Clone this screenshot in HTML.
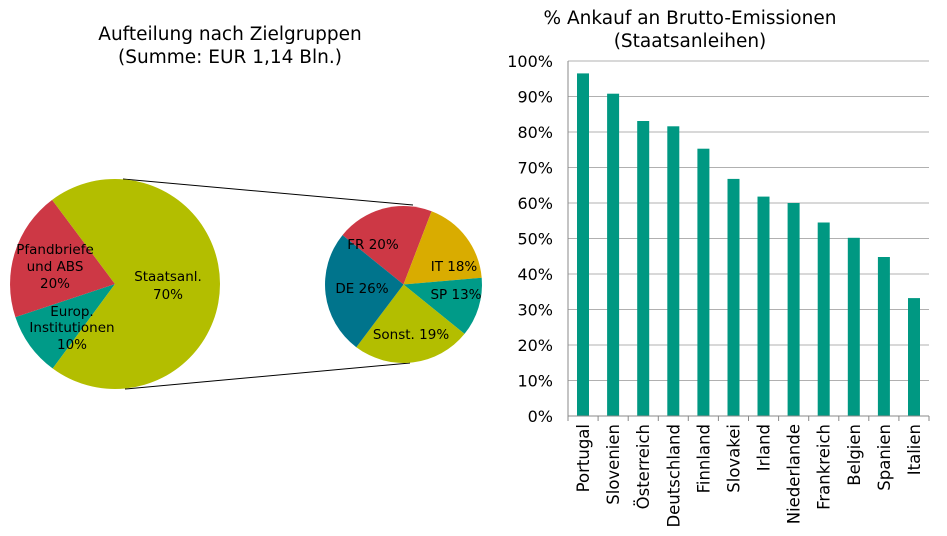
<!DOCTYPE html>
<html><head><meta charset="utf-8"><style>body{margin:0;background:#fff}svg{display:block}text{font-family:"DejaVu Sans","Liberation Sans",sans-serif;fill:#000}</style></head><body>
<svg width="947" height="536" viewBox="0 0 947 536">
<text x="230" y="40" font-size="18.5" text-anchor="middle">Aufteilung nach Zielgruppen</text>
<text x="230" y="63" font-size="18.5" text-anchor="middle">(Summe: EUR 1,14 Bln.)</text>
<text x="690" y="24" font-size="18.5" text-anchor="middle">% Ankauf an Brutto-Emissionen</text>
<text x="690" y="47" font-size="18.5" text-anchor="middle">(Staatsanleihen)</text>
<line x1="123" y1="179" x2="413" y2="205" stroke="#000" stroke-width="1"/>
<line x1="125" y1="389" x2="410" y2="363" stroke="#000" stroke-width="1"/>
<path d="M115,284 L52.7,368.5 A105,105 0 0 1 15.4,317.1 Z" fill="#009b88"/>
<path d="M115,284 L15.4,317.1 A105,105 0 0 1 52.1,199.9 Z" fill="#cd3845"/>
<path d="M115,284 L52.1,199.9 A105,105 0 1 1 52.7,368.5 Z" fill="#b3be00"/>
<path d="M403.5,284.5 L342.5,235.1 A78.5,78.5 0 0 1 431.6,211.2 Z" fill="#cd3845"/>
<path d="M403.5,284.5 L431.6,211.2 A78.5,78.5 0 0 1 481.7,277.7 Z" fill="#d9ac00"/>
<path d="M403.5,284.5 L481.7,277.7 A78.5,78.5 0 0 1 464.5,333.9 Z" fill="#009b88"/>
<path d="M403.5,284.5 L464.5,333.9 A78.5,78.5 0 0 1 356.3,347.2 Z" fill="#b3be00"/>
<path d="M403.5,284.5 L356.3,347.2 A78.5,78.5 0 0 1 342.5,235.1 Z" fill="#00748c"/>
<g font-size="13.5" text-anchor="middle">
<text x="55" y="254">Pfandbriefe</text><text x="55" y="271">und ABS</text><text x="55" y="288">20%</text>
<text x="168" y="281">Staatsanl.</text><text x="168" y="299">70%</text>
<text x="72" y="316">Europ.</text><text x="72" y="332">Institutionen</text><text x="72" y="349">10%</text>
<text x="373" y="249">FR 20%</text><text x="454" y="271">IT 18%</text><text x="362" y="293">DE 26%</text><text x="456" y="299">SP 13%</text><text x="411" y="339">Sonst. 19%</text>
</g>
<g stroke="#b0b0b0">
<line x1="568" y1="380.5" x2="929" y2="380.5"/><line x1="568" y1="345" x2="929" y2="345"/><line x1="568" y1="309.5" x2="929" y2="309.5"/><line x1="568" y1="274" x2="929" y2="274"/><line x1="568" y1="238.5" x2="929" y2="238.5"/><line x1="568" y1="203" x2="929" y2="203"/><line x1="568" y1="167.5" x2="929" y2="167.5"/><line x1="568" y1="132" x2="929" y2="132"/><line x1="568" y1="96.5" x2="929" y2="96.5"/><line x1="568" y1="61" x2="929" y2="61"/>
</g>
<g font-size="16" text-anchor="end">
<text x="553" y="422">0%</text><text x="553" y="386.5">10%</text><text x="553" y="351">20%</text><text x="553" y="315.5">30%</text><text x="553" y="280">40%</text><text x="553" y="244.5">50%</text><text x="553" y="209">60%</text><text x="553" y="173.5">70%</text><text x="553" y="138">80%</text><text x="553" y="102.5">90%</text><text x="553" y="67">100%</text>
</g>
<g fill="#009882">
<rect x="577" y="73.4" width="12" height="342.6"/>
<rect x="607.1" y="93.7" width="12" height="322.3"/>
<rect x="637.2" y="121" width="12" height="295"/>
<rect x="667.3" y="126.3" width="12" height="289.7"/>
<rect x="697.4" y="148.7" width="12" height="267.3"/>
<rect x="727.5" y="178.9" width="12" height="237.1"/>
<rect x="757.5" y="196.6" width="12" height="219.4"/>
<rect x="787.6" y="203" width="12" height="213"/>
<rect x="817.7" y="222.5" width="12" height="193.5"/>
<rect x="847.8" y="237.8" width="12" height="178.2"/>
<rect x="877.9" y="257" width="12" height="159"/>
<rect x="908" y="298.1" width="12" height="117.9"/>
</g>
<g stroke="#888">
<line x1="568" y1="61" x2="568" y2="416"/><line x1="568" y1="416" x2="929" y2="416"/>
<line x1="568" y1="416" x2="568" y2="421"/><line x1="598.1" y1="416" x2="598.1" y2="421"/><line x1="628.2" y1="416" x2="628.2" y2="421"/><line x1="658.3" y1="416" x2="658.3" y2="421"/><line x1="688.3" y1="416" x2="688.3" y2="421"/><line x1="718.4" y1="416" x2="718.4" y2="421"/><line x1="748.5" y1="416" x2="748.5" y2="421"/><line x1="778.6" y1="416" x2="778.6" y2="421"/><line x1="808.7" y1="416" x2="808.7" y2="421"/><line x1="838.8" y1="416" x2="838.8" y2="421"/><line x1="868.8" y1="416" x2="868.8" y2="421"/><line x1="898.9" y1="416" x2="898.9" y2="421"/><line x1="929" y1="416" x2="929" y2="421"/>
</g>
<g font-size="16.5" text-anchor="end">
<text transform="translate(589,424) rotate(-90)">Portugal</text>
<text transform="translate(619.1,424) rotate(-90)">Slovenien</text>
<text transform="translate(649.2,424) rotate(-90)">Österreich</text>
<text transform="translate(679.3,424) rotate(-90)">Deutschland</text>
<text transform="translate(709.4,424) rotate(-90)">Finnland</text>
<text transform="translate(739.5,424) rotate(-90)">Slovakei</text>
<text transform="translate(769.5,424) rotate(-90)">Irland</text>
<text transform="translate(799.6,424) rotate(-90)">Niederlande</text>
<text transform="translate(829.7,424) rotate(-90)">Frankreich</text>
<text transform="translate(859.8,424) rotate(-90)">Belgien</text>
<text transform="translate(889.9,424) rotate(-90)">Spanien</text>
<text transform="translate(920,424) rotate(-90)">Italien</text>
</g>
</svg>
</body></html>
